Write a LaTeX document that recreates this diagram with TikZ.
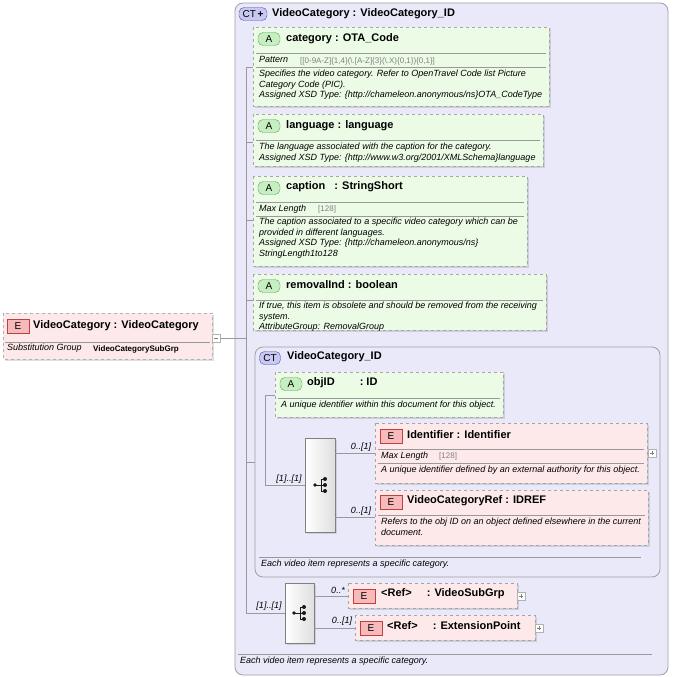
\documentclass[tikz,border=0pt]{standalone}
\usepackage{fontspec}
\setmainfont{Liberation Sans}
\usetikzlibrary{shadows}
\definecolor{ctfill}{HTML}{E9E9FA}
\definecolor{ctbor}{HTML}{A0A0A0}
\definecolor{afill}{HTML}{ECFBE6}
\definecolor{efill}{HTML}{FDE9E9}
\definecolor{abadge}{HTML}{C6EEC0}
\definecolor{ebadge}{HTML}{F7B9B9}
\definecolor{ctbadge}{HTML}{C8C8F0}
\tikzset{
 ct/.style={draw=ctbor,fill=ctfill,rounded corners=8pt,line width=0.8pt},
 ab/.style={draw=gray!70,dashed,fill=afill,drop shadow={opacity=0.25,shadow xshift=1.5pt,shadow yshift=-1.5pt}},
 eb/.style={draw=gray!70,dashed,fill=efill,drop shadow={opacity=0.25,shadow xshift=1.5pt,shadow yshift=-1.5pt}},
 hd/.style={anchor=west,font=\bfseries\fontsize{11}{13}\selectfont,inner sep=0},
 ds/.style={anchor=north west,font=\itshape\fontsize{9}{10.6}\selectfont,inner sep=0,align=left},
 gr/.style={anchor=west,font=\fontsize{8}{9}\selectfont,inner sep=0,text=gray},
 lab/.style={font=\itshape\fontsize{9}{10}\selectfont,inner sep=0},
 sep/.style={draw=gray!80,line width=0.4pt},
 ln/.style={draw=gray!80,line width=0.6pt},
 seq/.style={draw=gray,fill=gray!12,left color=white,right color=gray!25,drop shadow={opacity=0.25,shadow xshift=1.5pt,shadow yshift=-1.5pt}},
 pl/.style={draw=gray!60,fill=white,line width=0.4pt},
}
\newcommand\Abadge[2]{\node[draw=gray!70!green,fill=abadge,rounded corners=5pt,minimum width=22pt,minimum height=13pt,inner sep=0,font=\fontsize{10}{11}\selectfont] (#2) at #1 {A};}
\newcommand\Ebadge[2]{\node[draw=red!50!gray,fill=ebadge,minimum width=22pt,minimum height=14pt,inner sep=0,font=\fontsize{10}{11}\selectfont] (#2) at #1 {E};}
\newcommand\seqicon[1]{\begin{scope}[shift={#1},gray!20!black,line width=0.8pt]
 \fill (-6,0) circle (1.8); \draw (-6,0)--(0,0); \draw (0,-6)--(0,6);
 \draw (0,-6)--(4,-6) (0,0)--(4,0) (0,6)--(4,6);
 \fill (4,-6) circle (2) (4,0) circle (2) (4,6) circle (2);\end{scope}}
\begin{document}
\begin{tikzpicture}[x=1pt,y=-1pt]
\useasboundingbox (0,0) rectangle (673,677);
% outer CT
\draw[ct] (235,3) rectangle (668,675);
\node[draw=gray!60!blue,fill=ctbadge,rounded corners=5pt,minimum width=28pt,minimum height=13pt,inner sep=0,font=\fontsize{10}{11}\selectfont] (ctb) at (253,14) {CT\,\textbf{+}};
\node[hd] (ctt) at (272,14) {VideoCategory : VideoCategory\_ID};
\draw[sep] (238,654) -- (652,654);
\node[ds] (ctd) at (240,657) {Each video item represents a specific category.};
% left element
\draw[eb,dashed=false,draw=gray!60] (3,313) rectangle (212,359);
\Ebadge{(18,326)}{e0}
\node[hd] (h0) at (33,326) {VideoCategory : VideoCategory};
\draw[sep] (5,342) -- (210,342);
\node[ds] (s0) at (7,344) {Substitution Group};
\node[anchor=north west,inner sep=0,font=\bfseries\fontsize{8}{9}\selectfont] (s0b) at (93,345) {VideoCategorySubGrp};
\draw[pl] (212,334) rectangle (220,342); \draw[gray] (214,338)--(218,338);
% trunk
\draw[ln] (220,338) -- (246,338);
\draw[ln] (246,67) -- (246,613);
\foreach \y in {67,142,220,300,462} \draw[ln] (246,\y) -- (256,\y);
% category
\draw[ab] (253,27) rectangle (549,106);
\Abadge{(269,39)}{a1}
\node[hd] (h1) at (286,39) {category : OTA\_Code};
\draw[sep] (256,53) -- (546,53);
\node[ds] (p1) at (259,56) {Pattern};
\node[gr] (p1v) at (300,61) {[[0-9A-Z]\{1,4\}(\textbackslash.[A-Z]\{3\}(\textbackslash.X)\{0,1\})\{0,1\}]};
\draw[sep] (256,67) -- (546,67);
\node[ds] (d1) at (259,70) {Specifies the video category. Refer to OpenTravel Code list Picture\\Category Code (PIC).\\Assigned XSD Type: \{http://chameleon.anonymous/ns\}OTA\_CodeType};
% language
\draw[ab] (253,114) rectangle (543,166);
\Abadge{(269,126)}{a2}
\node[hd] (h2) at (286,126) {language : language};
\draw[sep] (256,140) -- (540,140);
\node[ds] (d2) at (259,143) {The language associated with the caption for the category.\\Assigned XSD Type: \{http://www.w3.org/2001/XMLSchema\}language};
% caption
\draw[ab] (253,176) rectangle (527,266);
\Abadge{(269,188)}{a3}
\node[hd] (h3) at (286,187) {caption \ \ : StringShort};
\draw[sep] (256,202) -- (524,202);
\node[ds] (m3) at (259,205) {Max Length};
\node[gr] (m3v) at (318,209) {[128]};
\draw[sep] (256,216) -- (524,216);
\node[ds] (d3) at (259,218) {The caption associated to a specific video category which can be\\provided in different languages.\\Assigned XSD Type: \{http://chameleon.anonymous/ns\}\\StringLength1to128};
% removalInd
\draw[ab] (253,274) rectangle (546,330);
\Abadge{(269,286)}{a4}
\node[hd] (h4) at (286,285) {removalInd : boolean};
\draw[sep] (256,300) -- (543,300);
\node[ds] (d4) at (259,302) {If true, this item is obsolete and should be removed from the receiving\\system.\\AttributeGroup: RemovalGroup};
% inner CT
\draw[ct] (255,347) rectangle (660,577);
\node[draw=gray!60!blue,fill=ctbadge,rounded corners=5pt,minimum width=21pt,minimum height=13pt,inner sep=0,font=\fontsize{10}{11}\selectfont] (ctb2) at (270,358) {CT};
\node[hd] (ct2t) at (287,357) {VideoCategory\_ID};
\draw[sep] (259,557) -- (641,557);
\node[ds] (ct2d) at (261,560) {Each video item represents a specific category.};
% inner trunk
\draw[ln] (265,395) -- (265,485);
\draw[ln] (265,395) -- (276,395);
\draw[ln] (265,485) -- (305,485);
\node[lab] (l1) at (289,479) {[1]..[1]};
% objID
\draw[ab] (275,372) rectangle (503,417);
\Abadge{(291,384)}{a5}
\node[hd] (h5) at (307,383) {objID \qquad : ID};
\draw[sep] (278,398) -- (500,398);
\node[ds] (d5) at (281,401) {A unique identifier within this document for this object.};
% sequence
\draw[seq] (305,438) rectangle (335,532);
\seqicon{(321,485)}
\draw[ln] (335,453) -- (375,453);
\draw[ln] (335,517) -- (375,517);
\node[lab] (l2) at (361,447) {0..[1]};
\node[lab] (l3) at (361,511) {0..[1]};
% Identifier
\draw[eb] (375,423) rectangle (647,483);
\Ebadge{(391,436)}{e1}
\node[hd] (h6) at (407,435) {Identifier : Identifier};
\draw[sep] (378,449) -- (644,449);
\node[ds] (m6) at (381,452) {Max Length};
\node[gr] (m6v) at (439,456) {[128]};
\draw[sep] (378,463) -- (644,463);
\node[ds] (d6) at (381,466) {A unique identifier defined by an external authority for this object.};
\draw[pl] (648,449) rectangle (656,457); \draw[gray] (650,453)--(654,453) (652,451)--(652,455);
% VideoCategoryRef
\draw[eb] (375,490) rectangle (648,545);
\Ebadge{(391,502)}{e2}
\node[hd] (h7) at (407,501) {VideoCategoryRef : IDREF};
\draw[sep] (378,515) -- (645,515);
\node[ds] (d7) at (381,518) {Refers to the obj ID on an object defined elsewhere in the current\\document.};
% bottom sequence
\draw[ln] (246,613) -- (285,613);
\node[lab] (l4) at (269,606) {[1]..[1]};
\draw[seq] (285,583) rectangle (314,643);
\seqicon{(300,613)}
\draw[ln] (314,596) -- (348,596);
\draw[ln] (314,628) -- (355,628);
\node[lab] (l5) at (338,590) {0..*};
\node[lab] (l6) at (342,621) {0..[1]};
\draw[eb] (348,583) rectangle (517,608);
\Ebadge{(364,596)}{e3}
\node[hd] (h8) at (381,594) {<Ref>\hspace{15pt}: VideoSubGrp};
\draw[pl] (517,592) rectangle (525,600); \draw[gray] (519,596)--(523,596) (521,594)--(521,598);
\draw[eb] (355,615) rectangle (535,640);
\Ebadge{(371,628)}{e4}
\node[hd] (h9) at (387,626) {<Ref>\hspace{15pt}: ExtensionPoint};
\draw[pl] (535,624) rectangle (543,632); \draw[gray] (537,628)--(541,628) (539,626)--(539,630);
\end{tikzpicture}
\end{document}
